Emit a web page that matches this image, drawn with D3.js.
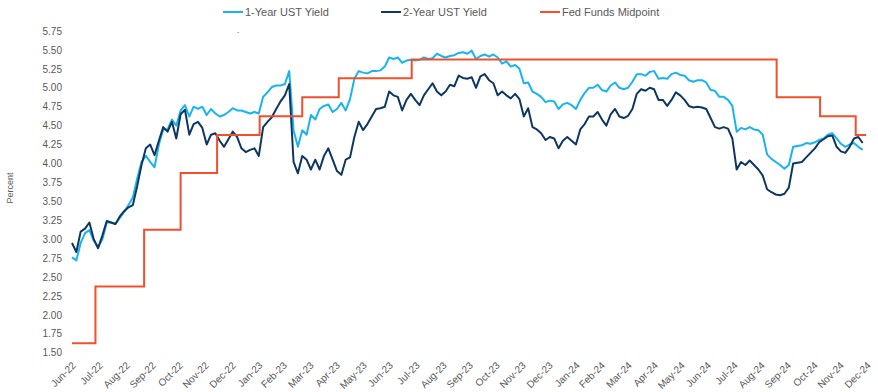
<!DOCTYPE html>
<html>
<head>
<meta charset="utf-8">
<script src="https://cdn.jsdelivr.net/npm/d3@7"></script>
<style>
  html, body { margin: 0; padding: 0; background: #ffffff; }
  svg { display: block; }
  text { font-family: "Liberation Sans", Arial, sans-serif; }
</style>
</head>
<body>
<svg id="chart" width="878" height="392"></svg>
<script>
// ---------------- DATA ----------------
// Yield observations every 5 calendar days starting 2022-06-30
const seriesStart = "2022-06-30";
const seriesStepDays = 5;

const twoYear = [
  2.95, 2.83, 3.10, 3.14, 3.22, 3.00, 2.88, 3.05, 3.24, 3.22,
  3.20, 3.30, 3.37, 3.42, 3.45, 3.70, 3.98, 4.20, 4.25, 4.11,
  4.30, 4.48, 4.42, 4.55, 4.33, 4.65, 4.71, 4.38, 4.52, 4.55,
  4.47, 4.25, 4.38, 4.40, 4.30, 4.22, 4.32, 4.42, 4.35, 4.20,
  4.15, 4.18, 4.20, 4.10, 4.48, 4.55, 4.61, 4.72, 4.82, 4.90,
  5.05, 4.02, 3.87, 4.10, 4.05, 3.92, 4.05, 3.92, 4.10, 4.20,
  4.05, 3.90, 3.85, 4.05, 4.08, 4.35, 4.55, 4.44, 4.52, 4.62,
  4.72, 4.73, 4.75, 4.95, 4.90, 4.88, 4.70, 4.84, 4.92, 4.84,
  4.77, 4.90, 4.98, 5.06, 4.95, 4.90, 4.95, 5.04, 5.02, 5.16,
  5.13, 5.12, 5.14, 5.00, 5.15, 5.18, 5.10, 5.06, 4.90, 4.95,
  4.90, 4.86, 4.92, 4.85, 4.62, 4.73, 4.48, 4.45, 4.40, 4.31,
  4.35, 4.33, 4.20, 4.30, 4.35, 4.30, 4.25, 4.45, 4.52, 4.62,
  4.62, 4.68, 4.58, 4.50, 4.65, 4.72, 4.62, 4.60, 4.63, 4.72,
  4.92, 4.98, 4.96, 5.00, 4.98, 4.84, 4.84, 4.76, 4.84, 4.94,
  4.90, 4.84, 4.76, 4.74, 4.75, 4.74, 4.72, 4.60, 4.48, 4.46,
  4.48, 4.46, 4.33, 3.92, 4.02, 3.98, 4.04, 3.98, 3.92, 3.84,
  3.66, 3.62, 3.59, 3.58, 3.60, 3.68, 4.00, 4.01, 4.02, 4.08,
  4.14, 4.20, 4.28, 4.32, 4.36, 4.37, 4.22, 4.16, 4.14, 4.22,
  4.33, 4.35, 4.27
];

const oneYear = [
  2.76, 2.72, 2.95, 3.08, 3.12, 2.98, 2.90, 3.00, 3.22, 3.22,
  3.20, 3.28, 3.36, 3.45, 3.55, 3.80, 4.02, 4.10, 4.02, 3.95,
  4.25, 4.45, 4.45, 4.58, 4.50, 4.70, 4.77, 4.62, 4.75, 4.72,
  4.75, 4.64, 4.72, 4.66, 4.62, 4.64, 4.68, 4.73, 4.70, 4.70,
  4.68, 4.66, 4.68, 4.66, 4.88, 4.94, 5.01, 5.03, 5.03, 5.05,
  5.22, 4.44, 4.22, 4.44, 4.38, 4.64, 4.58, 4.72, 4.76, 4.78,
  4.68, 4.72, 4.80, 4.70, 4.85, 5.12, 5.22, 5.20, 5.19, 5.22,
  5.22, 5.23, 5.28, 5.40, 5.38, 5.40, 5.33, 5.36, 5.37, 5.36,
  5.37, 5.40, 5.38, 5.39, 5.45, 5.42, 5.40, 5.42, 5.43, 5.46,
  5.47, 5.45, 5.49, 5.38, 5.42, 5.44, 5.41, 5.44, 5.40, 5.32,
  5.35, 5.28, 5.30, 5.25, 5.06, 5.07, 4.95, 4.92, 4.88, 4.81,
  4.83, 4.82, 4.72, 4.78, 4.80, 4.77, 4.72, 4.84, 4.93, 5.00,
  5.00, 5.04, 4.97, 4.95, 5.03, 5.07, 5.00, 4.98, 5.00, 5.08,
  5.18, 5.18, 5.16, 5.21, 5.22, 5.12, 5.13, 5.12, 5.18, 5.20,
  5.17, 5.16, 5.10, 5.08, 5.10, 5.10, 5.07, 4.97, 4.96, 4.88,
  4.88, 4.84, 4.76, 4.42, 4.47, 4.45, 4.48, 4.45, 4.44, 4.38,
  4.12, 4.06, 4.02, 3.98, 3.93, 3.98, 4.22, 4.23, 4.24, 4.27,
  4.26, 4.28, 4.31, 4.33, 4.38, 4.40, 4.33, 4.26, 4.22, 4.25,
  4.27, 4.22, 4.18
];

const fedDates = [
  "2022-06-30", "2022-07-27", "2022-09-21", "2022-11-02", "2022-12-14",
  "2023-02-01", "2023-03-22", "2023-05-03", "2023-07-26", "2024-09-18",
  "2024-11-07", "2024-12-18", "2024-12-30"
];
const fedMid = [
  1.625, 2.375, 3.125, 3.875, 4.375,
  4.625, 4.875, 5.125, 5.375, 4.875,
  4.625, 4.375, 4.375
];

const monthLabels = [
  "Jun-22","Jul-22","Aug-22","Sep-22","Oct-22","Nov-22","Dec-22",
  "Jan-23","Feb-23","Mar-23","Apr-23","May-23","Jun-23","Jul-23","Aug-23","Sep-23","Oct-23","Nov-23","Dec-23",
  "Jan-24","Feb-24","Mar-24","Apr-24","May-24","Jun-24","Jul-24","Aug-24","Sep-24","Oct-24","Nov-24","Dec-24"
];
const yTicks = [1.50,1.75,2.00,2.25,2.50,2.75,3.00,3.25,3.50,3.75,4.00,4.25,4.50,4.75,5.00,5.25,5.50,5.75];

const seriesNames = ["1-Year UST Yield", "2-Year UST Yield", "Fed Funds Midpoint"];
const seriesColors = ["#19b4ef", "#0d3760", "#f24f2c"];

// ---------------- CHART ----------------
const svg = d3.select("#chart");
const parse = d3.timeParse("%Y-%m-%d");
const t0 = parse(seriesStart);
const dates = twoYear.map((_, i) => d3.timeDay.offset(t0, i * seriesStepDays));

// Month-end tick dates matching the labels
const monthFmtParse = d3.timeParse("%b-%y");
const tickDates = monthLabels.map(l => {
  const d = monthFmtParse(l);
  return new Date(d.getFullYear(), d.getMonth() + 1, 0);
});

const x = d3.scaleTime()
  .domain([parse("2022-06-30"), parse("2024-12-31")])
  .range([72, 867]);
const y = d3.scaleLinear()
  .domain([1.5, 5.75])
  .range([352.7, 31]);

// Y axis labels
const yAxis = d3.axisLeft(y).tickValues(yTicks).tickFormat(d3.format(".2f")).tickSize(0).tickPadding(0);
const gy = svg.append("g").attr("transform", "translate(62,0)").call(yAxis);
gy.select(".domain").remove();
gy.selectAll("text")
  .attr("fill", "#595959")
  .attr("font-size", "10px")
  .attr("font-family", "'Liberation Sans', Arial, sans-serif");

// X axis labels (rotated)
const xAxis = d3.axisBottom(x).tickValues(tickDates)
  .tickFormat((d, i) => monthLabels[i]).tickSize(0).tickPadding(0);
const gx = svg.append("g").attr("transform", "translate(0,358)").call(xAxis);
gx.select(".domain").remove();
gx.selectAll("text")
  .attr("fill", "#595959")
  .attr("font-size", "10px")
  .attr("font-family", "'Liberation Sans', Arial, sans-serif")
  .attr("text-anchor", "end")
  .attr("dy", "0")
  .attr("y", 0)
  .attr("transform", "translate(4,8) rotate(-45)");

// Y title
svg.append("text")
  .attr("transform", "translate(13,188) rotate(-90)")
  .attr("text-anchor", "middle")
  .attr("font-size", "9px")
  .attr("fill", "#595959")
  .text("Percent");

// small stray mark in reference
svg.append("text")
  .attr("x", 238).attr("y", 37)
  .attr("text-anchor", "middle")
  .attr("font-size", "8px")
  .attr("fill", "#8a8a8a")
  .text("ˆ");

// Lines
const line = d3.line()
  .x((d, i) => x(dates[i]))
  .y(d => y(d));

svg.append("path")
  .datum(oneYear)
  .attr("fill", "none")
  .attr("stroke", seriesColors[0])
  .attr("stroke-width", 2)
  .attr("stroke-linejoin", "round")
  .attr("d", line);

svg.append("path")
  .datum(twoYear)
  .attr("fill", "none")
  .attr("stroke", seriesColors[1])
  .attr("stroke-width", 2)
  .attr("stroke-linejoin", "round")
  .attr("d", line);

const fedLine = d3.line()
  .x((d, i) => x(parse(fedDates[i])))
  .y(d => y(d))
  .curve(d3.curveStepAfter);

svg.append("path")
  .datum(fedMid)
  .attr("fill", "none")
  .attr("stroke", seriesColors[2])
  .attr("stroke-width", 2)
  .attr("d", fedLine);

// Legend
const legendX = [223, 381, 540];
const lg = svg.append("g");
seriesNames.forEach((name, i) => {
  lg.append("line")
    .attr("x1", legendX[i]).attr("x2", legendX[i] + 20)
    .attr("y1", 12).attr("y2", 12)
    .attr("stroke", seriesColors[i]).attr("stroke-width", 2);
  lg.append("text")
    .attr("x", legendX[i] + 22).attr("y", 16)
    .attr("font-size", "11px")
    .attr("fill", "#595959")
    .text(name);
});
</script>
</body>
</html>
